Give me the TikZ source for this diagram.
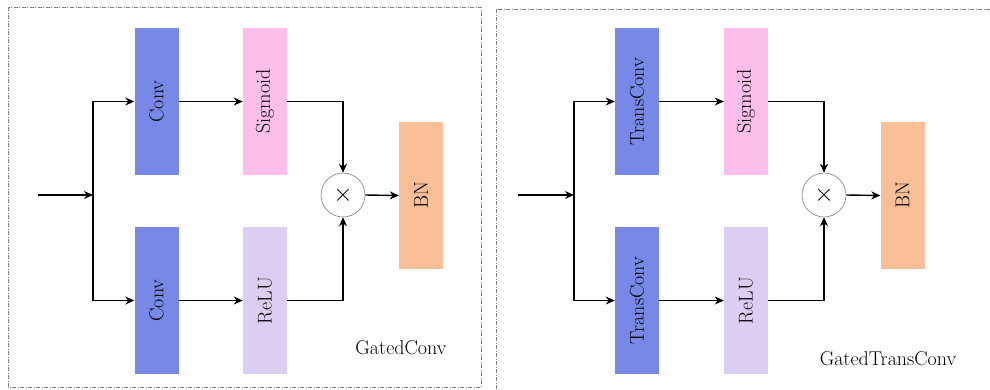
\documentclass[tikz,border=0pt]{standalone}
\usepackage{fontspec}
\setmainfont{Latin Modern Roman}
\usetikzlibrary{arrows.meta}
\definecolor{convblue}{RGB}{119,136,230}
\definecolor{sigpink}{RGB}{253,190,235}
\definecolor{relulav}{RGB}{220,206,242}
\definecolor{bnorange}{RGB}{251,191,151}
\begin{document}
\begin{tikzpicture}[x=1pt,y=-1pt,
  blockbox/.style={inner sep=0pt, minimum width=44pt, minimum height=147pt, font=\fontsize{20}{24}\selectfont},
  mulnode/.style={circle, draw=gray, line width=0.6pt, minimum size=44pt, inner sep=0pt, fill=white, font=\fontsize{24}{26}\selectfont},
  conn/.style={line width=1.4pt, -{Stealth[length=9pt,width=8pt]}},
  panel/.style={draw=gray, line width=0.8pt, dash pattern=on 4pt off 1.5pt on 1pt off 1.5pt},
  caption/.style={font=\fontsize{20}{24}\selectfont}
]
\clip (0,0) rectangle (990,389);
\useasboundingbox (0,0) rectangle (990,389);
\fill[white] (0,0) rectangle (990,389);
% panels
\draw[panel] (8,7) rectangle (481,387);
\draw[panel] (496,9) rectangle (1000,400);

% ---- left panel ----
\node[blockbox, fill=convblue] (convA) at (156.5,101.5) {\rotatebox{90}{Conv}};
\node[blockbox, fill=sigpink] (sigA) at (265,101.5) {\rotatebox{90}{Sigmoid}};
\node[blockbox, fill=convblue] (convB) at (156.5,300.5) {\rotatebox{90}{Conv}};
\node[blockbox, fill=relulav] (reluA) at (265,300.5) {\rotatebox{90}{ReLU}};
\node[blockbox, fill=bnorange] (bnA) at (421,195.5) {\rotatebox{90}{BN}};
\node[mulnode] (mulA) at (343,195) {$\times$};
\coordinate (inA) at (38,195);
\coordinate (brA) at (93,195);
\draw[conn] (inA) -- (brA);
\draw[conn] (brA) |- (convA.west);
\draw[conn] (brA) |- (convB.west);
\draw[conn] (convA.east) -- (sigA.west);
\draw[conn] (convB.east) -- (reluA.west);
\draw[conn] (sigA.east) -| (mulA.north);
\draw[conn] (reluA.east) -| (mulA.south);
\draw[conn] (mulA.east) -- (bnA.west);
\node[caption] (capA) at (401,348) {GatedConv};

% ---- right panel ----
\node[blockbox, fill=convblue] (tconvA) at (637,101.5) {\rotatebox{90}{TransConv}};
\node[blockbox, fill=sigpink] (sigB) at (746,101.5) {\rotatebox{90}{Sigmoid}};
\node[blockbox, fill=convblue] (tconvB) at (637,300.5) {\rotatebox{90}{TransConv}};
\node[blockbox, fill=relulav] (reluB) at (746,300.5) {\rotatebox{90}{ReLU}};
\node[blockbox, fill=bnorange] (bnB) at (902.5,195.5) {\rotatebox{90}{BN}};
\node[mulnode] (mulB) at (824,195) {$\times$};
\coordinate (inB) at (518,195);
\coordinate (brB) at (574,195);
\draw[conn] (inB) -- (brB);
\draw[conn] (brB) |- (tconvA.west);
\draw[conn] (brB) |- (tconvB.west);
\draw[conn] (tconvA.east) -- (sigB.west);
\draw[conn] (tconvB.east) -- (reluB.west);
\draw[conn] (sigB.east) -| (mulB.north);
\draw[conn] (reluB.east) -| (mulB.south);
\draw[conn] (mulB.east) -- (bnB.west);
\node[caption] (capB) at (888,359) {GatedTransConv};
\end{tikzpicture}
\end{document}
